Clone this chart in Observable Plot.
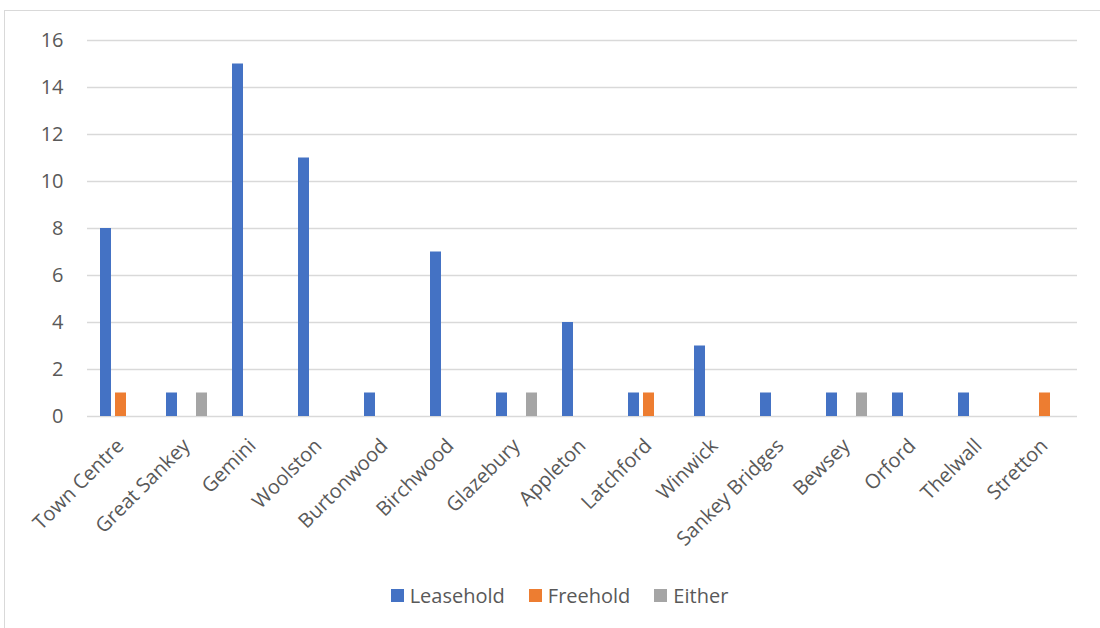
<!DOCTYPE html>
<html>
<head>
<meta charset="utf-8">
<script src="https://cdn.jsdelivr.net/npm/d3@7"></script>
<script src="https://cdn.jsdelivr.net/npm/@observablehq/plot@0.6"></script>
<style>
  html, body { margin: 0; padding: 0; background: #fff; }
  #wrap { position: relative; width: 1100px; height: 628px; overflow: hidden; font-family: "Open Sans", sans-serif; }
  #frame { position: absolute; left: 4px; top: 10px; width: 1200px; height: 700px;
           border-left: 1.5px solid #d9d9d9; border-top: 1.5px solid #d9d9d9; }
  #chart { position: absolute; left: 0; top: 0; }
  #legend { position: absolute; left: 0; top: 582px; width: 1119px; display: flex; justify-content: center;
            gap: 24px; font-size: 20px; color: #595959; }
  .item { display: flex; align-items: center; gap: 6px; }
  .swatch { width: 13px; height: 13px; display: inline-block; }
</style>
</head>
<body>
<div id="wrap">
  <div id="frame"></div>
  <div id="chart"></div>
  <div id="legend"></div>
</div>
<script>
// Sites and the number of units of each tenure type
const categories = ["Town Centre", "Great Sankey", "Gemini", "Woolston", "Burtonwood", "Birchwood",
  "Glazebury", "Appleton", "Latchford", "Winwick", "Sankey Bridges", "Bewsey", "Orford", "Thelwall", "Stretton"];
const seriesNames = ["Leasehold", "Freehold", "Either"];
const leasehold = [8, 1, 15, 11, 1, 7, 1, 4, 1, 3, 1, 1, 1, 1, 0];
const freehold  = [1, 0, 0, 0, 0, 0, 0, 0, 1, 0, 0, 0, 0, 0, 1];
const either    = [0, 1, 0, 0, 0, 0, 1, 0, 0, 0, 0, 1, 0, 0, 0];
const colors = ["#4472C4", "#ED7D31", "#A5A5A5"];
const yTicks = [0, 2, 4, 6, 8, 10, 12, 14, 16];

const seriesValues = [leasehold, freehold, either];
const rows = [];
categories.forEach((c, i) => {
  seriesNames.forEach((s, j) => rows.push({category: c, series: s, value: seriesValues[j][i]}));
});

// Facets sit edge to edge so the gridlines run unbroken across the plot;
// the outer padding of x keeps each group of bars centred in its slot.
const chart = Plot.plot({
  width: 1100,
  height: 560,
  marginLeft: 87,
  marginRight: 23,
  marginTop: 40,
  marginBottom: 144,
  style: {fontFamily: "Open Sans, sans-serif", fontSize: "20px", color: "#595959", background: "transparent"},
  fx: {domain: categories, padding: 0, label: null},
  x: {domain: seriesNames, paddingInner: 0.267, paddingOuter: 0.833, axis: null},
  y: {domain: [0, 16], label: null, axis: null},
  color: {domain: seriesNames, range: colors},
  marks: [
    Plot.ruleY(yTicks, {stroke: "#d9d9d9", strokeWidth: 1.3}),
    Plot.barY(rows.filter(d => d.value > 0), {fx: "category", x: "series", y: "value", fill: "series"}),
    Plot.axisY(yTicks, {tickSize: 0, tickPadding: 24, fontSize: 20, fill: "#595959", label: null}),
    Plot.axisFx({anchor: "bottom", tickRotate: -45, tickSize: 0, tickPadding: 26, fontSize: 20, fill: "#595959", label: null})
  ]
});
document.getElementById("chart").appendChild(chart);

const legend = document.getElementById("legend");
seriesNames.forEach((s, j) => {
  const item = document.createElement("div");
  item.className = "item";
  const sw = document.createElement("span");
  sw.className = "swatch";
  sw.style.background = colors[j];
  const label = document.createElement("span");
  label.textContent = s;
  item.appendChild(sw);
  item.appendChild(label);
  legend.appendChild(item);
});
</script>
</body>
</html>
